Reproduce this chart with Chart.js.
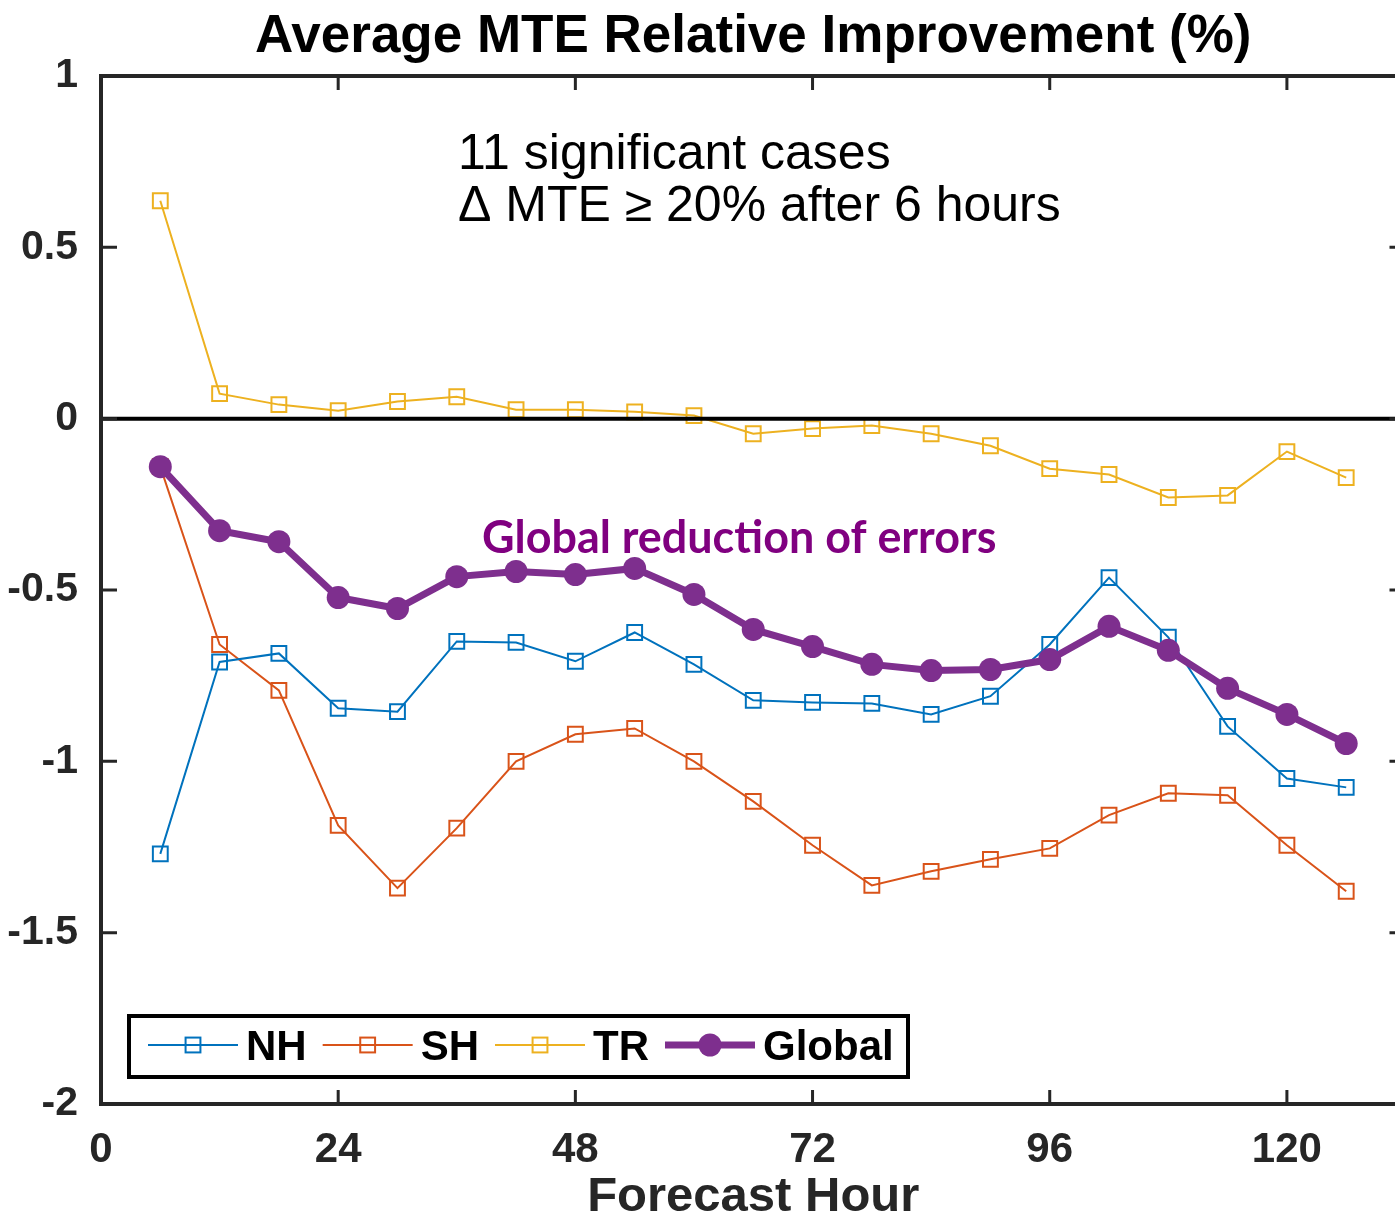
<!DOCTYPE html>
<html>
<head>
<meta charset="utf-8">
<title>Average MTE Relative Improvement</title>
<script src="https://cdn.jsdelivr.net/npm/chart.js@4.4.1/dist/chart.umd.min.js"></script>
<style>
  html, body { margin: 0; padding: 0; background: #fff; overflow: hidden; }
  canvas { display: block; }
</style>
</head>
<body>
<canvas id="mte" width="1418" height="1217"></canvas>
<script>
// forecast hours and the relative improvement of each region (%)
const hours = [6, 12, 18, 24, 30, 36, 42, 48, 54, 60, 66, 72, 78, 84, 90, 96, 102, 108, 114, 120, 126];
const nhValues = [-1.27, -0.71, -0.685, -0.845, -0.855, -0.65, -0.653, -0.708, -0.624, -0.717, -0.822, -0.828, -0.831, -0.863, -0.81, -0.659, -0.464, -0.638, -0.898, -1.05, -1.076];
const shValues = [-0.14, -0.659, -0.793, -1.187, -1.37, -1.195, -1.0, -0.921, -0.904, -1.0, -1.117, -1.245, -1.362, -1.321, -1.286, -1.254, -1.157, -1.093, -1.099, -1.245, -1.379];
const trValues = [0.636, 0.073, 0.041, 0.023, 0.05, 0.064, 0.026, 0.026, 0.02, 0.009, -0.044, -0.029, -0.02, -0.044, -0.079, -0.146, -0.163, -0.23, -0.224, -0.096, -0.172];
const globalValues = [-0.14, -0.327, -0.359, -0.522, -0.554, -0.461, -0.446, -0.455, -0.437, -0.513, -0.615, -0.665, -0.717, -0.735, -0.732, -0.703, -0.606, -0.676, -0.787, -0.863, -0.948];

const seriesNames = ["NH", "SH", "TR", "Global"];
const xTicks = [0, 24, 48, 72, 96, 120];
const yTicks = [1, 0.5, 0, -0.5, -1, -1.5, -2];

const chartTitle = "Average MTE Relative Improvement (%)";
const xTitle = "Forecast Hour";
const noteLines = ["11 significant cases", "\u0394 MTE \u2265 20% after 6 hours"];
const globalNote = "Global reduction of errors";

const toPoints = vals => hours.map((h, i) => ({ x: h, y: vals[i] }));

const INK = "#262626";

// MATLAB style box, inner ticks, zero line, texts and the boxed legend
const decorations = {
  id: "decorations",
  afterDatasetsDraw(chart) {
    const { ctx, chartArea: a, scales: { x, y } } = chart;
    ctx.save();

    // zero line
    const y0 = y.getPixelForValue(0);
    ctx.strokeStyle = "#000";
    ctx.lineWidth = 4;
    ctx.beginPath();
    ctx.moveTo(a.left, y0);
    ctx.lineTo(a.right, y0);
    ctx.stroke();

    // axes box
    ctx.strokeStyle = INK;
    ctx.lineWidth = 4;
    ctx.strokeRect(a.left, a.top, a.right - a.left, a.bottom - a.top);

    // ticks pointing inwards
    ctx.lineWidth = 3;
    ctx.beginPath();
    x.ticks.forEach(t => {
      const px = x.getPixelForValue(t.value);
      ctx.moveTo(px, a.top); ctx.lineTo(px, a.top + 14);
      ctx.moveTo(px, a.bottom); ctx.lineTo(px, a.bottom - 14);
    });
    y.ticks.forEach(t => {
      const py = y.getPixelForValue(t.value);
      ctx.moveTo(a.left, py); ctx.lineTo(a.left + 16, py);
      ctx.moveTo(a.right, py); ctx.lineTo(a.right - 16, py);
    });
    ctx.stroke();

    const cx = (a.left + a.right) / 2;

    // title
    ctx.fillStyle = "#000";
    ctx.textAlign = "center";
    ctx.textBaseline = "alphabetic";
    ctx.font = "bold 53px 'Liberation Sans', Arial, sans-serif";
    ctx.fillText(chartTitle, cx, 52);

    // x axis title
    ctx.fillStyle = INK;
    ctx.font = "bold 49px 'Liberation Sans', Arial, sans-serif";
    ctx.fillText(xTitle, cx, 1211);

    // note in the upper part
    ctx.fillStyle = "#000";
    ctx.textAlign = "left";
    ctx.font = "50px 'Liberation Sans', Arial, sans-serif";
    ctx.fillText(noteLines[0], 458, 169);
    ctx.fillText(noteLines[1], 458, 221);

    // purple remark, scaled to the width it takes in the figure
    ctx.font = "bold 40px Lato, 'Open Sans', sans-serif";
    const w = ctx.measureText(globalNote).width;
    ctx.font = "bold " + (40 * 514 / w).toFixed(1) + "px Lato, 'Open Sans', sans-serif";
    ctx.fillStyle = "#800080";
    ctx.fillText(globalNote, 482, 553);

    // legend
    const box = { left: 129, top: 1016, right: 908, bottom: 1077 };
    ctx.fillStyle = "#fff";
    ctx.fillRect(box.left, box.top, box.right - box.left, box.bottom - box.top);
    ctx.strokeStyle = "#000";
    ctx.lineWidth = 4;
    ctx.strokeRect(box.left, box.top, box.right - box.left, box.bottom - box.top);

    ctx.font = "bold 42px 'Liberation Sans', Arial, sans-serif";
    const ly = 1045;
    let lx = 148;
    chart.data.datasets.forEach(ds => {
      ctx.strokeStyle = ds.borderColor;
      ctx.lineWidth = ds.borderWidth;
      ctx.beginPath();
      ctx.moveTo(lx, ly);
      ctx.lineTo(lx + 90, ly);
      ctx.stroke();
      const mx = lx + 45;
      if (ds.pointStyle === "circle") {
        ctx.fillStyle = ds.borderColor;
        ctx.beginPath();
        ctx.arc(mx, ly, ds.pointRadius, 0, Math.PI * 2);
        ctx.fill();
      } else {
        const half = ds.pointRadius * Math.SQRT1_2;
        ctx.lineWidth = ds.pointBorderWidth;
        ctx.strokeRect(mx - half, ly - half, half * 2, half * 2);
      }
      ctx.fillStyle = "#000";
      ctx.fillText(ds.label, lx + 98, ly + 15);
      lx += 98 + ctx.measureText(ds.label).width + 16;
    });

    ctx.restore();
  }
};

const openSquare = (label, color, vals, order) => ({
  label: label,
  data: toPoints(vals),
  borderColor: color,
  borderWidth: 2,
  pointStyle: "rect",
  pointRadius: 10.5,
  pointBorderWidth: 2,
  pointBorderColor: color,
  pointBackgroundColor: "rgba(0,0,0,0)",
  order: order
});

new Chart("mte", {
  type: "line",
  data: {
    datasets: [
      openSquare(seriesNames[0], "#0072BD", nhValues, 1),
      openSquare(seriesNames[1], "#D95319", shValues, 2),
      openSquare(seriesNames[2], "#EDB120", trValues, 3),
      {
        label: seriesNames[3],
        data: toPoints(globalValues),
        borderColor: "#7E2F8E",
        borderWidth: 7,
        pointStyle: "circle",
        pointRadius: 11.5,
        pointBorderWidth: 0,
        pointBackgroundColor: "#7E2F8E",
        order: 0
      }
    ]
  },
  options: {
    responsive: false,
    animation: false,
    devicePixelRatio: 1,
    layout: { padding: { top: 76, right: 4, left: 0, bottom: 0 } },
    plugins: {
      legend: { display: false },
      tooltip: { enabled: false },
      title: { display: false }
    },
    scales: {
      x: {
        type: "linear",
        min: 0,
        max: 132,
        grid: { display: false },
        border: { display: false },
        afterBuildTicks: s => { s.ticks = xTicks.map(v => ({ value: v })); },
        afterFit: s => { s.height = 113; },
        ticks: {
          color: INK,
          padding: 13,
          maxRotation: 0,
          font: { family: "'Liberation Sans', Arial, sans-serif", size: 42, weight: "bold" }
        }
      },
      y: {
        type: "linear",
        min: -2,
        max: 1,
        grid: { display: false },
        border: { display: false },
        afterBuildTicks: s => { s.ticks = yTicks.map(v => ({ value: v })); },
        afterFit: s => { s.width = 101; },
        ticks: {
          color: INK,
          padding: 15,
          callback: v => String(v),
          font: { family: "'Liberation Sans', Arial, sans-serif", size: 41, weight: "bold" }
        }
      }
    }
  },
  plugins: [decorations]
});
</script>
</body>
</html>
